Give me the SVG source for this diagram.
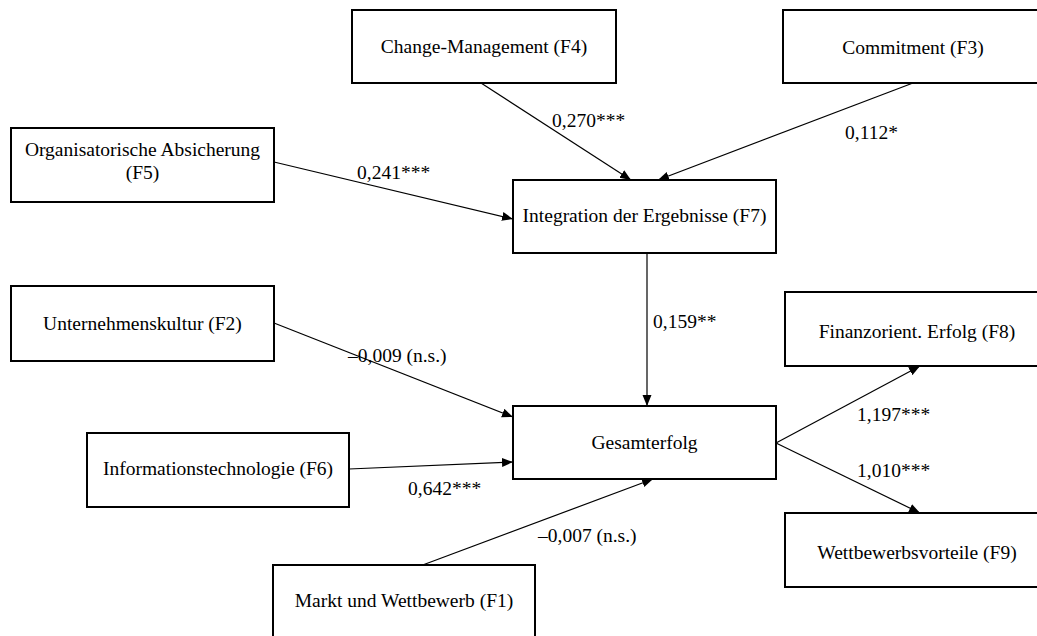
<svg xmlns="http://www.w3.org/2000/svg" width="1037" height="636" viewBox="0 0 1037 636">
<style>
.box{fill:#fff;stroke:#000;stroke-width:2}
.t{font-family:"Liberation Serif","Times New Roman",serif;font-size:19.5px;fill:#000}
.c{text-anchor:middle}
.e{stroke:#000;stroke-width:1.2;fill:none;marker-end:url(#ah)}
</style>
<defs>
<marker id="ah" markerUnits="userSpaceOnUse" markerWidth="12" markerHeight="10" refX="11" refY="5" orient="auto">
<path d="M0,0.5 L11,5 L0,9.5 Z" fill="#000"/>
</marker>
</defs>
<rect width="1037" height="636" fill="#fff"/>
<g id="connectors">
<line class="e" x1="481" y1="83" x2="631" y2="180"/>
<line class="e" x1="913" y1="83" x2="658" y2="180"/>
<line class="e" x1="274" y1="162" x2="513" y2="219"/>
<line class="e" x1="647" y1="254" x2="647" y2="406"/>
<line class="e" x1="274" y1="323" x2="513" y2="417"/>
<line class="e" x1="349" y1="469" x2="513" y2="462"/>
<line class="e" x1="420" y1="566" x2="653" y2="479"/>
<line class="e" x1="776" y1="443" x2="920" y2="366"/>
<line class="e" x1="776" y1="443" x2="920" y2="513"/>
<text class="t" x="552" y="127">0,270***</text>
<text class="t" x="845" y="139">0,112*</text>
<text class="t" x="357" y="179">0,241***</text>
<text class="t" x="653" y="328">0,159**</text>
<text class="t" x="348" y="362">–0,009 (n.s.)</text>
<text class="t" x="408" y="495">0,642***</text>
<text class="t" x="538" y="542">–0,007 (n.s.)</text>
<text class="t" x="857" y="421">1,197***</text>
<text class="t" x="857" y="477">1,010***</text>
</g>
<g id="F4"><rect class="box" x="352" y="10" width="264" height="73"/><text class="t c" x="484" y="53">Change-Management (F4)</text></g>
<g id="F3"><rect class="box" x="783" y="10" width="260" height="73"/><text class="t c" x="913" y="54">Commitment (F3)</text></g>
<g id="F5"><rect class="box" x="11" y="128" width="263" height="74"/><text class="t c" x="142.5" y="156">Organisatorische Absicherung</text><text class="t c" x="142.5" y="179">(F5)</text></g>
<g id="F7"><rect class="box" x="513" y="180" width="263" height="73"/><text class="t c" x="644.5" y="222">Integration der Ergebnisse (F7)</text></g>
<g id="F2"><rect class="box" x="11" y="286" width="263" height="75"/><text class="t c" x="142.5" y="330">Unternehmenskultur (F2)</text></g>
<g id="F6"><rect class="box" x="87" y="433" width="262" height="74"/><text class="t c" x="218" y="475">Informationstechnologie (F6)</text></g>
<g id="Gesamterfolg"><rect class="box" x="513" y="406" width="263" height="73"/><text class="t c" x="644.5" y="449">Gesamterfolg</text></g>
<g id="F1"><rect class="box" x="273" y="565" width="262" height="74"/><text class="t c" x="404" y="607">Markt und Wettbewerb (F1)</text></g>
<g id="F8"><rect class="box" x="785" y="292" width="264" height="74"/><text class="t c" x="917" y="338">Finanzorient. Erfolg (F8)</text></g>
<g id="F9"><rect class="box" x="785" y="513" width="264" height="74"/><text class="t c" x="917" y="559">Wettbewerbsvorteile (F9)</text></g>
</svg>
